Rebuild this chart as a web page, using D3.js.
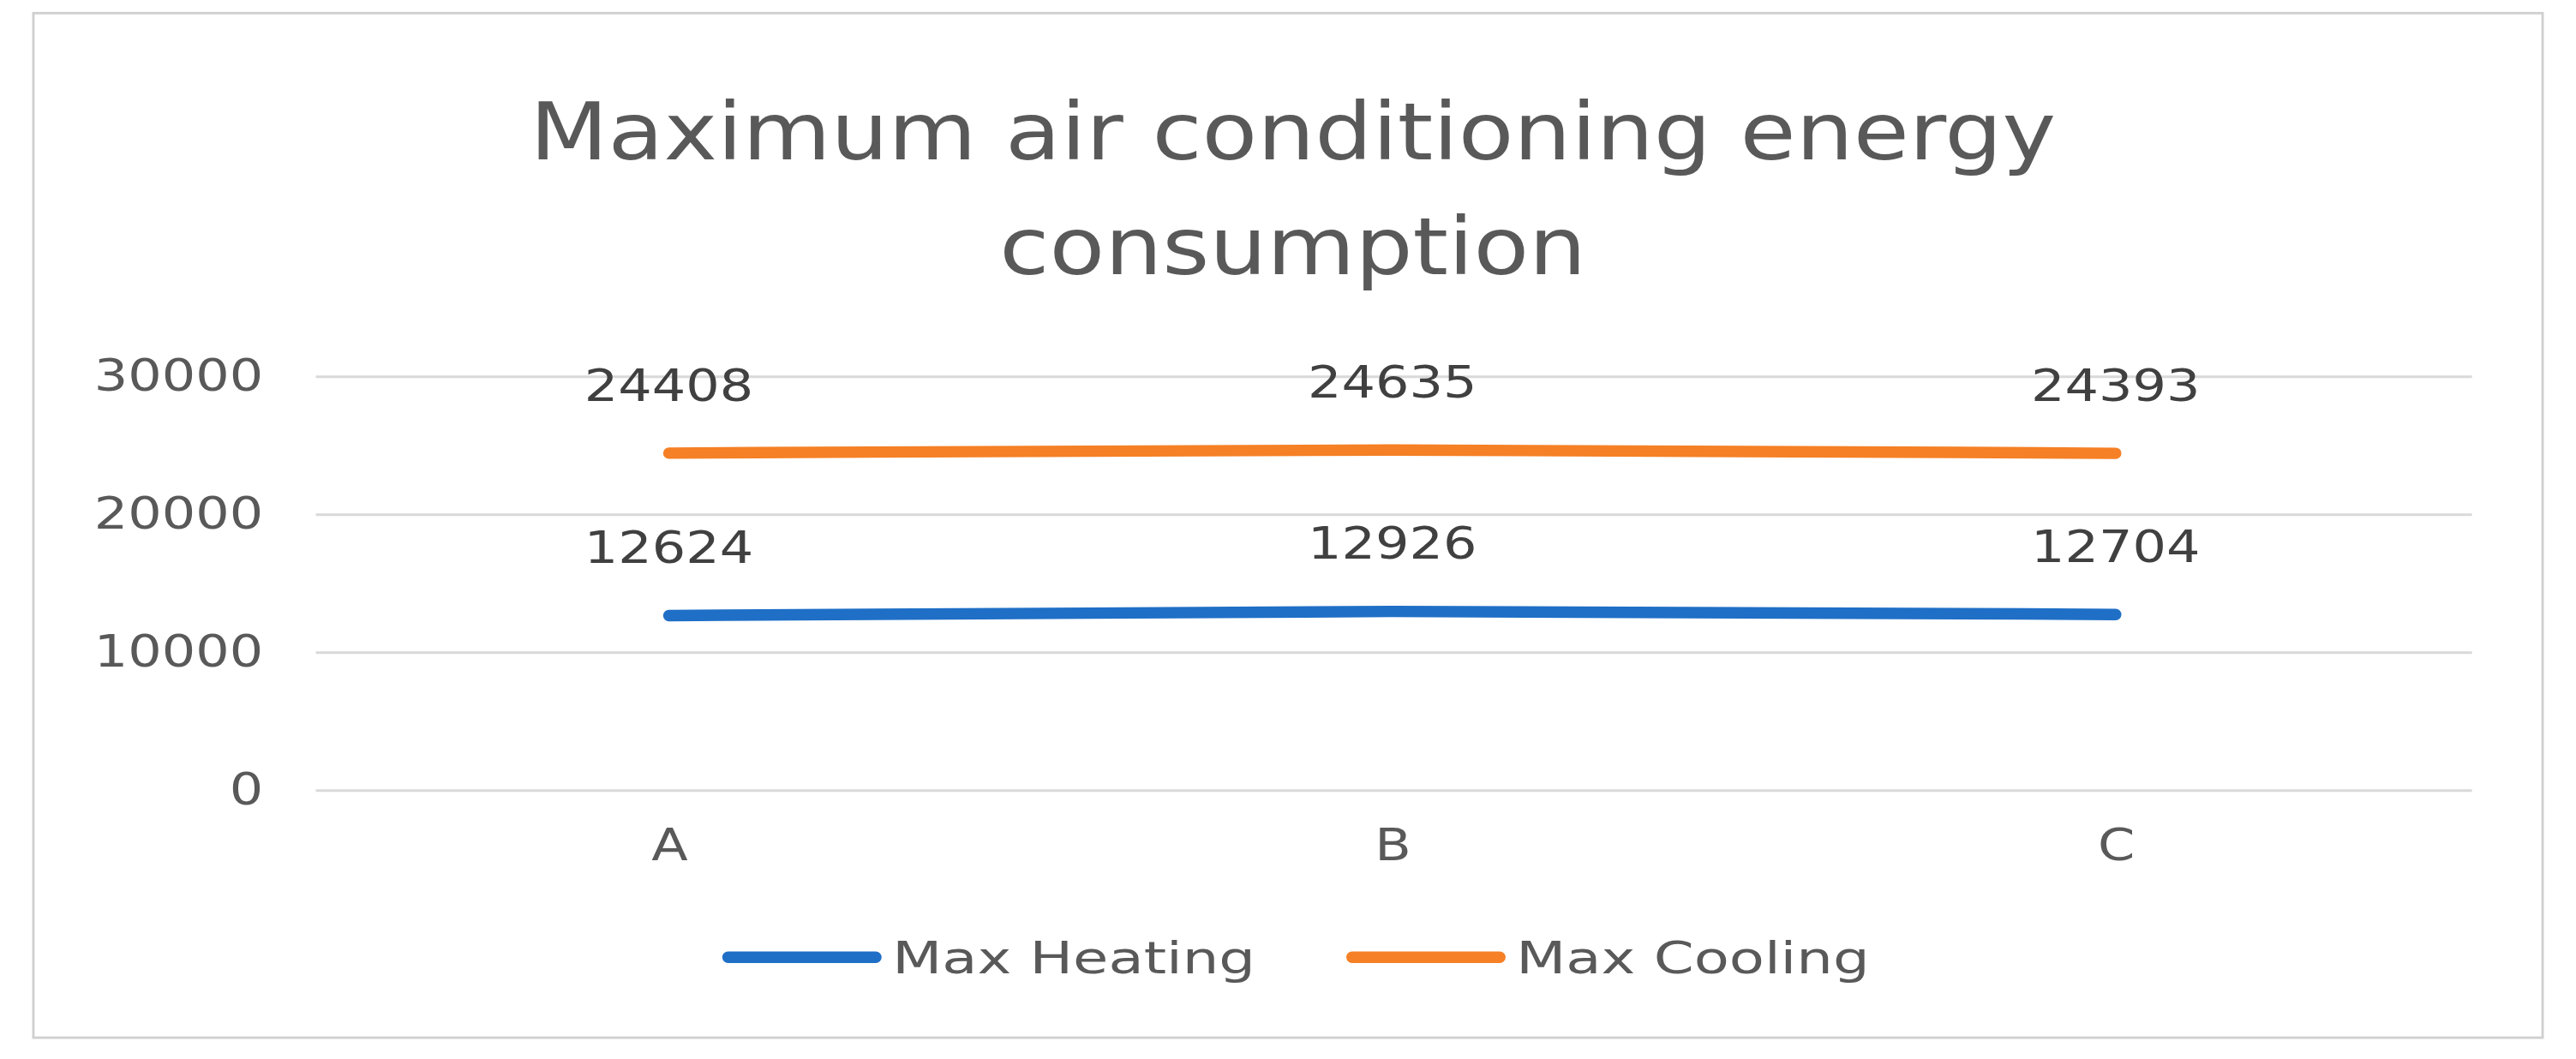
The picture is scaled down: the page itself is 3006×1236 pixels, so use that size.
<!DOCTYPE html>
<html><head><meta charset="utf-8">
<script src="https://cdn.jsdelivr.net/npm/d3@7"></script>
<style>body{margin:0;background:#fff}</style>
</head><body><div id="container"></div>
<script>
// data
const categories = ["A", "B", "C"];
const heating = [12624, 12926, 12704];
const cooling = [24408, 24635, 24393];
const yTicks = [0, 10000, 20000, 30000];
const seriesNames = ["Max Heating", "Max Cooling"];
const colors = ["#1f6fc6", "#f58025"];

// drawn in a 1568x645 coordinate space, scaled up to the window
const W = 1568, H = 645;
const svg = d3.select("#container").append("svg")
  .attr("width", 3006).attr("height", 1236)
  .attr("viewBox", `0 0 ${W} ${H}`)
  .style("font-family", "'DejaVu Sans', sans-serif");

// reference font is wider than DejaVu, stretch text horizontally
function widen(sel, f) {
  sel.each(function () {
    const w = this.getComputedTextLength();
    d3.select(this).attr("textLength", w * f).attr("lengthAdjust", "spacingAndGlyphs");
  });
}

svg.append("rect").attr("x", 20).attr("y", 8).attr("width", 1528).attr("height", 624)
  .attr("fill", "#fff").attr("stroke", "#d0d0d0").attr("stroke-width", 1.5);

const t1 = svg.append("text").attr("x", 787).attr("y", 97).attr("text-anchor", "middle")
  .attr("font-size", 48).attr("fill", "#595959").text("Maximum air conditioning energy");
const t2 = svg.append("text").attr("x", 787).attr("y", 167).attr("text-anchor", "middle")
  .attr("font-size", 48).attr("fill", "#595959").text("consumption");
widen(t1, 1.15); widen(t2, 1.15);

const x = d3.scalePoint().domain(categories).range([407, 1288]);
const y = d3.scaleLinear().domain([0, 30000]).range([481, 229]);

const yAxis = svg.append("g").attr("transform", "translate(192,0)")
  .call(d3.axisLeft(y).tickValues(yTicks).tickFormat(d3.format("d")).tickSize(-1313).tickPadding(32));
yAxis.select(".domain").remove();
yAxis.selectAll("line").attr("stroke", "#d9d9d9").attr("stroke-width", 1.5);
yAxis.selectAll("text").attr("font-size", 27).attr("fill", "#595959").attr("font-family", "'DejaVu Sans', sans-serif");
widen(yAxis.selectAll("text"), 1.2);

const xAxis = svg.append("g").attr("transform", "translate(0,481)")
  .call(d3.axisBottom(x).tickSize(0).tickPadding(24));
xAxis.select(".domain").remove();
xAxis.selectAll("text").attr("font-size", 27).attr("fill", "#595959").attr("font-family", "'DejaVu Sans', sans-serif");
widen(xAxis.selectAll("text"), 1.2);

const line = d3.line().x((d, i) => x(categories[i])).y(d => y(d)).curve(d3.curveMonotoneX);
[heating, cooling].forEach((s, k) => {
  svg.append("path").datum(s).attr("d", line).attr("fill", "none")
    .attr("stroke", colors[k]).attr("stroke-width", 7).attr("stroke-linecap", "round");
  const lab = svg.selectAll(null).data(s).join("text")
    .attr("x", (d, i) => x(categories[i])).attr("y", d => y(d) - 32)
    .attr("text-anchor", "middle").attr("font-size", 27).attr("fill", "#404040")
    .text(d => d);
  widen(lab, 1.2);
});

// legend
const legX = [443, 823];
seriesNames.forEach((n, k) => {
  svg.append("line").attr("x1", legX[k]).attr("x2", legX[k] + 90).attr("y1", 583).attr("y2", 583)
    .attr("stroke", colors[k]).attr("stroke-width", 7).attr("stroke-linecap", "round");
  const lt = svg.append("text").attr("x", legX[k] + 100).attr("y", 593).attr("font-size", 27)
    .attr("fill", "#595959").text(n);
  widen(lt, 1.3);
});
</script></body></html>
